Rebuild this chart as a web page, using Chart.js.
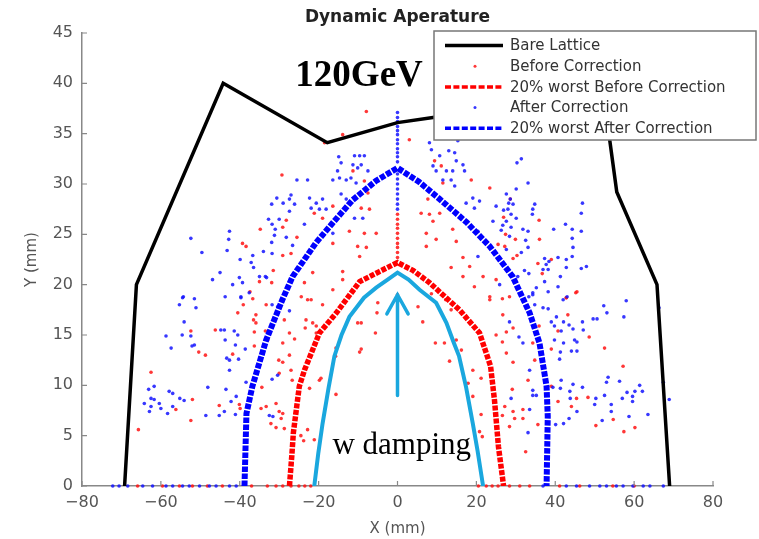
<!DOCTYPE html>
<html>
<head>
<meta charset="utf-8">
<script src="https://cdn.jsdelivr.net/npm/chart.js@4.4.0/dist/chart.umd.min.js"></script>
<style>
  html, body { margin: 0; padding: 0; background: #fff; }
  #wrap { width: 759px; height: 539px; }
</style>
</head>
<body>
<div id="wrap"><canvas id="chart" width="759" height="539"></canvas></div>
<script>
// tick labels
const xTicks = [-80, -60, -40, -20, 0, 20, 40, 60, 80];
const yTicks = [0, 5, 10, 15, 20, 25, 30, 35, 40, 45];

// bare lattice aperture (part behind the legend is a guess)
const bareLattice = [[-69.2,0],[-66.2,20],[-44.2,40],[-17.8,34.1],[0,36.1],[9,36.6],[20,37.2],[51,38.5],
  [53.8,34.4],[55.6,29.2],[65.8,20],[69,0]];

// 20% worst curves
const worstBefore = [[-27.4,0],[-26.8,3],[-26.4,5.3],[-24.9,9.9],[-23.6,11.5],[-19.8,15.2],[-15.5,17.2],
  [-9.6,20.3],[-4.6,21.3],[0,22.2],[4,21.4],[8.1,20.2],[15.7,17.5],[20.8,15.2],[23.6,11.9],[24.6,8.5],
  [25.6,3.9],[26.9,0]];
const worstAfter = [[-38.8,0],[-38.3,7.2],[-36.8,9.9],[-33.3,14.5],[-29.2,18.5],[-26.6,20.8],[-20.6,24.2],
  [-16.5,26.1],[-11.4,28.4],[-5.5,30.3],[0,31.6],[5.5,30.2],[10.7,28.5],[17.5,26.2],[23.4,23.8],[29.2,20.8],
  [33.5,17.2],[36,14.2],[37.8,9.9],[38.1,6.9],[37.8,0]];

// with damping
const withDamping = [[-21.1,0],[-20.1,3.2],[-19,6.2],[-17.5,9.7],[-16,12.9],[-14.2,15],[-12.2,16.8],
  [-8.5,18.7],[-5.4,19.7],[-2.5,20.5],[0,21.2],[2.8,20.5],[5.6,19.5],[9.8,18.2],[12.4,16.2],[14.3,14.2],
  [15.6,12.9],[17.4,9.8],[19.1,6.2],[20.3,3.5],[21.7,0]];

// scattered seeds, before correction
const beforePts = [
  [-29.3,30.9],[-34.8,25.5],[-28.2,26.4],[-29.1,25.7],[-39.3,24.1],[-38.4,23.8],[-29.1,22.9],[-27,23.1],
  [-31.5,21.4],[-35,20.3],[-31.9,20.2],[-25.5,24.7],[-37.4,19.3],
  [-7.9,37.2],[-13.9,34.9],[-18.5,34.1],[-11.3,31.3],[-8.4,30.3],[-7.5,29.1],[-16.4,27.8],[-21.1,27.1],
  [-19,26.6],[-9.2,27.6],[-7.1,27.5],[-12.2,25.3],[-8.4,25.1],[-5.4,25.1],[-16.4,24.1],[-10.1,23.8],
  [-7.9,23.7],[-9.6,22.8],[-21.5,21.2],[-13.9,21.3],[-23.6,20.2],[-13.9,20.5],[-16.4,19.5],[9.4,32.3],
  [11.1,31.8],[11.5,30.1],[18.7,30.4],[7.7,28.5],[6,27.1],[8.1,27],[9,26.3],[10.7,27.1],[7.3,25.1],
  [9.8,24.5],[14,25.5],[14.9,24.3],[7.3,23.8],[16.6,22.7],[13.6,21.7],[18.3,21.8],[16.6,20.8],[21.7,20.8],
  [19.5,19.8],[3,34.4],
  [0,27],[0,26.5],[0,26],[0,25.6],[0,25.1],[0,24.6],[0,24.1],[0,23.7],[0,23.2],[0,22.7],[0,19],
  [23.4,29.6],[28.6,28.5],[26.9,26.7],[35.9,26.4],[27.4,25],[29.9,24.5],[36,24.5],[25.5,24],[27.2,23.8],
  [30.3,22.9],[29.3,22.6],[39,22.5],[35.6,22.1],[36.7,21.1],[25,20.5],[45.2,19.2],[42.8,18.7],[23.4,18.8],
  [-62.5,11.3],[-65.7,5.6],[-52.4,15.4],[-50.4,13.3],[-48.7,13],[-46.2,15.5],[-40.5,17.2],[-39.1,18],
  [-36.7,18.6],[-33.3,18],[-36.5,16.5],[-35.9,16.2],[-36.3,15.3],[-33.5,15.4],[-36.3,13.9],[-41.8,13.1],
  [-28.7,16.5],[-27.4,15.2],[-26.1,14.6],[-29.1,14.2],[-30.1,12.5],[-29.1,12.3],[-27.4,13],[-27,11.5],
  [-26.7,10.5],[-30,11.2],[-34.4,9.8],[-52,8.6],[-45.2,8],[-40.1,8.1],[-39.9,7.7],[-52.4,6.5],[-56.2,7.6],
  [-34.6,7.7],[-33.3,7.9],[-30.8,8.2],[-30,7.4],[-29.1,7.2],[-29.5,6.7],[-28.7,5.7],[-32.1,6.2],[-30.8,5.8],
  [-35.9,17],[-32.9,14.5],[-24.5,5],[-23.8,4.5],
  [-22.8,18.5],[-21.9,18.5],[-19,18],[-23.2,16.5],[-21.5,16.2],[-20.6,15.9],[-23.4,15.7],[-20.6,15.2],
  [-16.4,16.7],[-9.2,16.2],[-10.1,16.2],[-5,18.2],[-5.2,17.2],[-5.6,15.2],[-9.2,13.6],[-9.6,13.3],
  [-15.6,13.7],[-15.7,12.9],[-19.8,10.5],[-19.4,10.7],[-22.3,9.7],[-15.6,9.1],[-22.8,5.6],[-21.1,4.6],
  [5.2,17.8],[6.4,16.3],[9.6,14.2],[11.9,14.2],[14.9,14.5],[13.2,12.4],[16.2,13.5],[19.1,11.5],[21.2,10.7],
  [17.9,10.2],[19.1,8.9],[21.2,7.1],[20.8,5.4],[21.5,4.9],[12.2,18.5],[13.6,17.5],[8.6,19.1],[-24.4,18.8],
  [23.4,18.5],[26.6,18.6],[28.4,18.8],[26.7,17],[25,15],[27.6,15.3],[29.3,15.7],[26.6,14.3],[34.3,14.2],
  [35.9,15.9],[34.8,12.5],[39,13.6],[40.7,15.4],[43.2,17],[42.8,18.7],[45.5,19.3],[48.6,14.8],[52.5,13.7],
  [57.2,11.9],[27.6,13.2],[29.3,12.3],[33.1,10.5],[29.1,9.6],[27.2,7.9],[29.3,7.4],[31.8,7.6],[26.6,7],
  [29.7,6.7],[28.4,5.9],[31.8,6.7],[35.6,6.1],[40.7,8.4],[45.4,8.7],[48.3,8.8],[44.1,7.9],[50.3,6],
  [54.7,6.6],[60.2,5.8],[57.4,5.4],[32.5,3.4],[39,9.9],
  [-65.9,0],[-59.6,0],[-55.3,0],[-52,0],[-48.2,0],[-44.4,0],[-37,0],[-33,0],[-30.8,0],[-29.1,0],[-27,0],
  [-25,0],[-23.5,0],[-22,0],[20.5,0],[22.5,0],[24,0],[25.5,0],[28.4,0],[31,0],[33.5,0],[41.1,0],[46.2,0],
  [54.6,0],[60,0]
];

// scattered seeds, after correction
const afterPts = [
  [-52.4,24.6],[-49.6,23.2],[-42.6,25.3],[-42.8,24.5],[-43.2,23.4],[-45,21.2],[-46.9,20.5],[-40.1,20.7],
  [-41.8,20],[-39.3,20.2],[-39.9,22.5],[-36.7,22.9],[-37.1,22.2],[-36.5,21.7],[-34,23.3],[-31.8,23.1],
  [-31.9,24.2],[-35,20.8],[-33.2,20.7],[-32.7,26.5],[-31.8,26],[-31,25.5],[-31.2,24.9],[-30,26.5],
  [-31.9,28],[-30.6,28.6],[-29,28.1],[-27.4,28.5],[-27,28.9],[-26.1,28],[-27.4,27.3],[-25.5,30.4],
  [-28.2,24.7],[-26.6,23.9],[-54.5,18.7],[-51.5,18.6],[-33.5,20.8],[-39.7,18.7],
  [-14.9,32.7],[-14.3,32.1],[-10.9,32.8],[-9.6,32.8],[-8.4,32.8],[-11.3,31.9],[-10.1,31.6],[-9.2,31.9],
  [-7.5,31.3],[-15.2,31.3],[-14.7,30.6],[-16.4,30.4],[-13,30.4],[-11.8,30.6],[-10.5,30.1],[-22.8,30.4],
  [-22.3,28.6],[-20.6,28.1],[-19,28.5],[-18.1,27.5],[-19.8,27.5],[-21.9,27.6],[-14.3,29],[-13,28.5],
  [-10.9,26.6],[-8.8,26.6],[-16.4,25.1],[-23.6,26],
  [8.1,34.1],[8.6,33.4],[10.7,32.8],[13,33.3],[14.5,33.1],[14.9,32.3],[16.6,31.9],[9,31.8],[9.8,31.3],
  [12.4,31.3],[14,31.3],[11.5,30.4],[13.6,30.4],[14.5,29.8],[17,31.3],[19.1,28.6],[20.8,28.3],[17.4,28.1],
  [19.5,27.6],[20.4,25.3],[20.4,22.8],[15.3,34.3],
  [0,37.1],[0,36.6],[0,36.2],[0,35.7],[0,35.3],[0,34.9],[0,34.4],[0,34],[0,33.5],[0,33.1],[0,32.7],
  [0,32.2],[0,31],[0,30.5],[0,30],[0,29.5],[0,29],[0,28.5],[0,28],[0,27.5],
  [30.3,32.1],[31.4,32.5],[33.1,30.1],[30.1,29.5],[27.6,29],[28.6,28.5],[28.2,28.1],[29.3,28],[25,27.8],
  [26.9,27.4],[28,27.5],[34.8,28],[34.3,27.5],[34.2,27],[28.8,27],[30.1,26.6],[27.6,26.3],[26.7,25.9],
  [28.8,25.7],[46.9,28.1],[46.6,27.1],[24.2,26.3],[31.8,25.5],[33.1,25.3],[26.3,25.4],[28.4,24.8],
  [39.6,25.5],[42.6,26],[44.3,25.5],[46.6,25.3],[44.3,24.6],[44.5,23.7],[44.3,22.8],[42.8,22.5],
  [40.7,22.7],[32.5,24.4],[33.1,23.7],[31.4,23.2],[27.6,23.5],[37.3,22.6],[38.4,22.3],[37.7,22],
  [36.9,21.5],[38.2,21.5],[42.8,21.7],[46.6,21.6],[47.9,21.8],[32.2,21.4],[33.3,21.1],[30.5,20.8],
  [37.3,20.3],[41.3,20.8],[40.7,19.8],[35.2,19.7],[38.2,19.3],[34.3,19.2],[33.3,18.8],[25.9,20],
  [-54.3,18.8],[-55.3,18],[-51.1,17.7],[-54.1,16.3],[-58.7,14.9],[-54.6,15],[-52.4,14.9],[-51.5,14],
  [-52.1,13.9],[-57.4,13.7],[-44.8,15.5],[-43.9,15.5],[-43.7,14.5],[-41.4,15.4],[-40.5,15],[-41.1,14],
  [-43.3,12.7],[-42.6,12.5],[-40.3,12.6],[-38.6,13.6],[-42.6,11.5],[-48.1,9.8],[-43.5,9.6],[-38.4,10.3],
  [-40.9,8.9],[-42.2,8.4],[-43.9,7.4],[-45.2,7],[-41.1,7.1],[-48.6,7],[-61.7,9.9],[-63.1,9.6],[-62.5,8.7],
  [-61.7,8.6],[-64.2,8.2],[-62.5,7.9],[-60.4,8.2],[-60,7.7],[-62.9,7.4],[-57.9,9.4],[-57,9.2],[-55.2,8.7],
  [-57,7.9],[-54.1,8.5],[-58.3,7.2],[-43.7,18.8],[-39.7,18.8],[-37.6,19.2],[-31.8,18],[-30.4,17.8],
  [-31.8,10.6],[-30.4,11],[-32.5,7],[-31.6,6.9],[-27.4,17.4],
  [34.3,19],[34.8,18],[38.2,17.6],[42,18.5],[43,18.8],[40.3,16.8],[39,16.3],[42.1,16.3],[43.5,16],
  [39.8,15.9],[41.5,15.4],[44.5,15.6],[46.9,16.3],[47.1,15.5],[44.9,14.5],[45.5,14.3],[42.1,14.2],
  [39.8,14.5],[44.1,13.4],[45.5,13.4],[41.3,13.3],[41.1,12.6],[49.6,16.6],[50.6,16.6],[52.3,17.9],
  [53.1,17.2],[58,18.4],[57.4,16.8],[31.8,14.2],[30.8,14.8],[28.4,16.3],[33.5,11.5],[41.5,10.5],[39.4,9.8],
  [41.3,9.7],[44.5,10.1],[46.9,9.8],[43.7,9.4],[43.8,8.7],[35.2,9],[34.3,9],[28.8,8.7],[34.3,9.5],
  [50.3,8.7],[52.5,9],[53,10.3],[56.3,10.4],[53.4,10.8],[50,8.1],[54.2,8.1],[57,8.7],[58.2,9.3],[59.6,8.4],
  [60.2,9.4],[61.4,10],[62.1,9.4],[59.6,8.9],[63.5,7.1],[58.7,6.9],[54.2,7.4],[51.9,6.5],[45.5,7.4],
  [43.5,6.7],[42.1,6.2],[40.1,6.1],[33.5,7.6],[33.1,5.3],[68.9,8.6],[67.4,10.3],[66.3,17.7],[36.9,17.7],
  [-72.2,0],[-70.6,0],[-68.4,0],[-64.6,0],[-62.1,0],[-58.7,0],[-57,0],[-54.5,0],[-52.8,0],[-50.2,0],
  [-47.7,0],[-46,0],[-42.6,0],[-40.9,0],[36.9,0],[42.8,0],[45.4,0],[48.7,0],[51.3,0],[53,0],[55.5,0],
  [57.2,0],[59.7,0],[62.3,0],[64,0],[67.4,0]
];

const toXY = a => a.map(([x, y]) => ({ x, y }));
const minus = v => String(v).replace('-', '\u2212');

// small inward tick marks like the original axes
const innerTicks = {
  id: 'innerTicks',
  afterDatasetsDraw(chart) {
    const { ctx, chartArea: a, scales: { x, y } } = chart;
    ctx.save();
    ctx.strokeStyle = '#888';
    ctx.lineWidth = 1.2;
    ctx.beginPath();
    xTicks.forEach(v => {
      const px = x.getPixelForValue(v);
      ctx.moveTo(px, a.bottom); ctx.lineTo(px, a.bottom - 5);
    });
    yTicks.forEach(v => {
      const py = y.getPixelForValue(v);
      ctx.moveTo(a.left, py); ctx.lineTo(a.left + 5, py);
    });
    ctx.stroke();
    ctx.restore();
  }
};

// arrow and text notes
const notes = {
  id: 'notes',
  afterDatasetsDraw(chart) {
    const { ctx, scales: { x, y } } = chart;
    ctx.save();
    ctx.strokeStyle = '#1aa7de';
    ctx.lineWidth = 3.5;
    ctx.lineCap = 'round';
    ctx.beginPath();
    ctx.moveTo(x.getPixelForValue(0), y.getPixelForValue(9));
    ctx.lineTo(x.getPixelForValue(0), y.getPixelForValue(19));
    ctx.moveTo(x.getPixelForValue(-2.7), y.getPixelForValue(17.1));
    ctx.lineTo(x.getPixelForValue(0), y.getPixelForValue(19));
    ctx.lineTo(x.getPixelForValue(2.7), y.getPixelForValue(17.1));
    ctx.stroke();

    ctx.fillStyle = '#000';
    ctx.textBaseline = 'alphabetic';
    ctx.font = 'bold 37px "Liberation Serif"';
    ctx.fillText('120GeV', x.getPixelForValue(-25.9), y.getPixelForValue(39.7));
    ctx.font = '31px "Liberation Serif"';
    ctx.fillText('w damping', x.getPixelForValue(-16.5), y.getPixelForValue(3.2));
    ctx.restore();
  }
};

// boxed legend in the upper right, drawn over the plot
const boxLegend = {
  id: 'boxLegend',
  afterDraw(chart) {
    const ctx = chart.ctx;
    ctx.save();
    ctx.fillStyle = '#fff';
    ctx.fillRect(434, 31, 322, 109);
    ctx.strokeStyle = '#777';
    ctx.lineWidth = 1.5;
    ctx.strokeRect(434, 31, 322, 109);
    const items = chart.data.datasets.filter(d => d.legendType);
    items.forEach((d, i) => {
      const cy = 45.5 + i * 20.7;
      const col = d.legendType === 'dot' ? d.backgroundColor : d.borderColor;
      if (d.legendType === 'dot') {
        ctx.fillStyle = col;
        ctx.beginPath();
        ctx.arc(475, cy, 1.5, 0, Math.PI * 2);
        ctx.fill();
      } else {
        ctx.strokeStyle = col;
        ctx.lineWidth = 3.5;
        ctx.setLineDash(d.legendType === 'solid' ? [] : [6, 2.4]);
        ctx.beginPath();
        ctx.moveTo(445, cy); ctx.lineTo(503, cy);
        ctx.stroke();
        ctx.setLineDash([]);
      }
      ctx.fillStyle = '#333';
      ctx.font = '15px "DejaVu Sans"';
      ctx.textBaseline = 'middle';
      ctx.fillText(d.label, 510, cy + 1);
    });
    ctx.restore();
  }
};

const ctx = document.getElementById('chart').getContext('2d');
new Chart(ctx, {
  type: 'scatter',
  data: {
    datasets: [
      { label: 'Bare Lattice', legendType: 'solid', data: toXY(bareLattice), showLine: true,
        borderColor: '#000', borderWidth: 3.5, pointRadius: 0, order: 1 },
      { label: 'Before Correction', legendType: 'dot', data: toXY(beforePts),
        backgroundColor: 'rgba(255,20,20,0.85)', borderWidth: 0, pointRadius: 1.8, order: 5, clip: false },
      { label: '20% worst Before Correction', legendType: 'dash', data: toXY(worstBefore), showLine: true,
        borderColor: '#ff0000', borderWidth: 5.5, borderDash: [5, 1.5], pointRadius: 0, order: 3 },
      { label: 'After Correction', legendType: 'dot', data: toXY(afterPts),
        backgroundColor: 'rgba(20,20,255,0.85)', borderWidth: 0, pointRadius: 1.8, order: 4, clip: false },
      { label: '20% worst After Correction', legendType: 'dash', data: toXY(worstAfter), showLine: true,
        borderColor: '#0000ff', borderWidth: 6, borderDash: [5.5, 1.5], pointRadius: 0, order: 2 },
      { label: 'w damping', data: toXY(withDamping), showLine: true,
        borderColor: '#1aa7de', borderWidth: 4, pointRadius: 0, order: 0 }
    ]
  },
  options: {
    responsive: false,
    animation: false,
    devicePixelRatio: 1,
    layout: { padding: { left: 0, right: 46, top: 0, bottom: 0 } },
    plugins: {
      legend: { display: false },
      tooltip: { enabled: false },
      title: {
        display: true, text: 'Dynamic Aperature', fullSize: false, color: '#222',
        font: { family: 'DejaVu Sans', size: 17, weight: 'bold' },
        padding: { top: 7, bottom: 5.6 }
      }
    },
    scales: {
      x: {
        type: 'linear', min: -80, max: 80,
        afterBuildTicks: s => { s.ticks = xTicks.map(v => ({ value: v })); },
        afterFit: s => { s.height = 53; },
        grid: { display: false, drawTicks: false },
        border: { color: '#888', width: 1.5 },
        ticks: { color: '#555', padding: 7, font: { family: 'DejaVu Sans', size: 16 }, callback: minus },
        title: { display: true, text: 'X (mm)', color: '#555', padding: { top: 0, bottom: 1 },
          font: { family: 'DejaVu Sans', size: 15 } }
      },
      y: {
        type: 'linear', min: 0, max: 45,
        afterBuildTicks: s => { s.ticks = yTicks.map(v => ({ value: v })); },
        afterFit: s => { s.width = 82; },
        grid: { display: false, drawTicks: false },
        border: { color: '#888', width: 1.5 },
        ticks: { color: '#555', padding: 9, font: { family: 'DejaVu Sans', size: 16 }, callback: minus },
        title: { display: true, text: 'Y (mm)', color: '#555', padding: { top: 23, bottom: 0 },
          font: { family: 'DejaVu Sans', size: 15 } }
      }
    }
  },
  plugins: [innerTicks, notes, boxLegend]
});
</script>
</body>
</html>
